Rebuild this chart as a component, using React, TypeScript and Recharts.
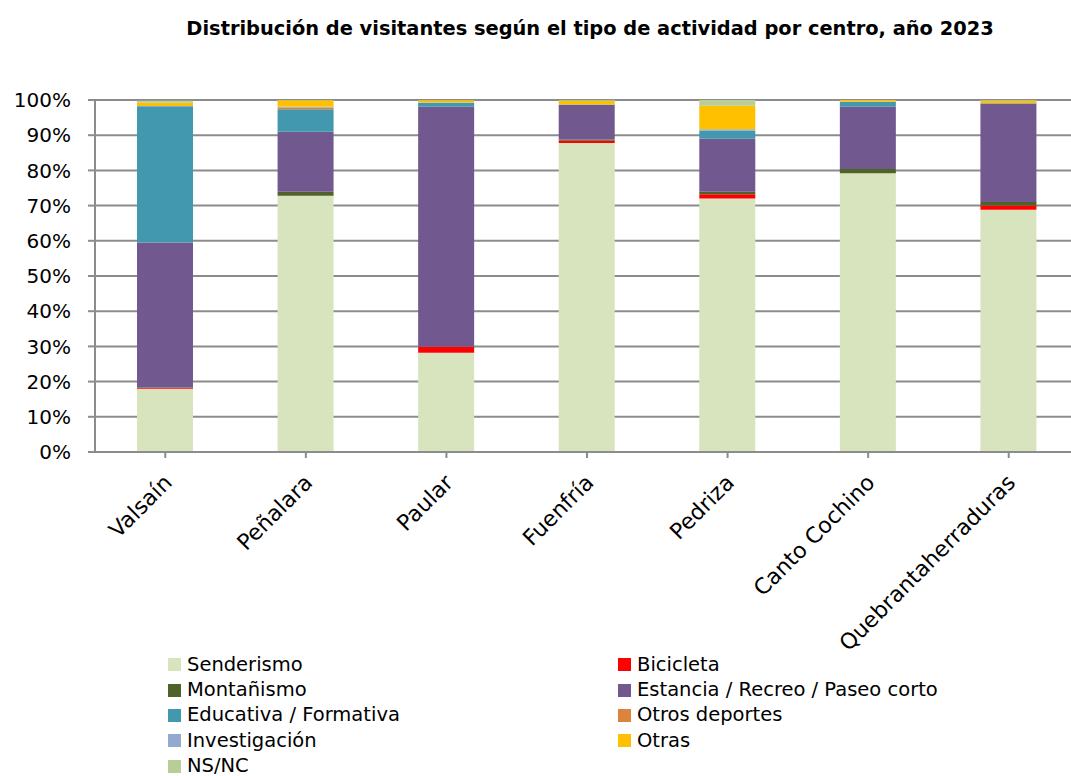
import React from "react";
import { BarChart, Bar, XAxis, YAxis, CartesianGrid } from "recharts";

const centros = ["Valsaín", "Peñalara", "Paular", "Fuenfría", "Pedriza", "Canto Cochino", "Quebrantaherraduras"];

// % de visitantes por actividad (mismo orden que centros)
const senderismo = [18.0, 72.8, 28.2, 87.8, 72.0, 79.2, 68.8];
const bicicleta = [0.2, 0, 1.7, 0.6, 1.2, 0, 1.2];
const montanismo = [0.1, 1.1, 0, 0.4, 0.7, 1.2, 1.0];
const estancia = [41.2, 17.1, 68.2, 9.8, 15.1, 17.7, 28.0];
const educativa = [38.7, 6.4, 1.1, 0.1, 2.3, 1.4, 0.1];
const otrosDeportes = [0, 0.5, 0, 0, 0, 0.1, 0];
const investigacion = [0.1, 0.2, 0.1, 0, 0.4, 0, 0];
const otras = [0.9, 1.8, 0.6, 1.1, 6.7, 0.4, 0.7];
const nsnc = [0.6, 0.1, 0.1, 0.2, 1.6, 0, 0.2];

const yTicks = [0, 10, 20, 30, 40, 50, 60, 70, 80, 90, 100];

const series = [
  { key: "senderismo", name: "Senderismo", color: "#D7E4BD", values: senderismo },
  { key: "bicicleta", name: "Bicicleta", color: "#FF0000", values: bicicleta },
  { key: "montanismo", name: "Montañismo", color: "#4F6228", values: montanismo },
  { key: "estancia", name: "Estancia / Recreo / Paseo corto", color: "#71588F", values: estancia },
  { key: "educativa", name: "Educativa / Formativa", color: "#4198AF", values: educativa },
  { key: "otrosDeportes", name: "Otros deportes", color: "#DB843D", values: otrosDeportes },
  { key: "investigacion", name: "Investigación", color: "#93A9CF", values: investigacion },
  { key: "otras", name: "Otras", color: "#FFC000", values: otras },
  { key: "nsnc", name: "NS/NC", color: "#B9CD96", values: nsnc },
];

const data = centros.map((c, i) => {
  const row: any = { centro: c };
  series.forEach((s) => (row[s.key] = s.values[i]));
  return row;
});

const FONT = "'DejaVu Sans', sans-serif";

function CatTick(props: any) {
  const { x, y, payload } = props;
  const ax = x + 8;
  const ay = y + 24;
  return (
    <text
      x={ax}
      y={ay}
      transform={`rotate(-45, ${ax}, ${ay})`}
      textAnchor="end"
      fontSize={22}
      fontFamily={FONT}
      fill="#000"
    >
      {payload.value}
    </text>
  );
}

export default function App() {
  return (
    <div style={{ position: "absolute", left: 0, top: 0, width: 1071, height: 776, overflow: "hidden", background: "#fff" }}>
      <div
        style={{
          position: "absolute",
          left: 0,
          width: 1180,
          top: 17,
          textAlign: "center",
          fontFamily: FONT,
          fontWeight: "bold",
          fontSize: 19.4,
          color: "#000",
        }}
      >
        Distribución de visitantes según el tipo de actividad por centro, año 2023
      </div>
      <BarChart
        width={1085}
        height={776}
        data={data}
        margin={{ top: 100, right: 6, left: 0, bottom: 124 }}
        barSize={56}
      >
        <CartesianGrid vertical={false} stroke="#8c8c8c" strokeWidth={2} />
        <XAxis
          dataKey="centro"
          interval={0}
          height={200}
          tick={<CatTick />}
          tickLine={{ stroke: "#8c8c8c", strokeWidth: 2 }}
          axisLine={{ stroke: "#8c8c8c", strokeWidth: 2 }}
          tickSize={6}
          scale="band"
        />
        <YAxis
          width={95}
          domain={[0, 100]}
          ticks={yTicks}
          interval={0}
          tickFormatter={(v: number) => `${v}%`}
          tick={{ fontSize: 20, fontFamily: FONT, fill: "#000" }}
          tickLine={{ stroke: "#8c8c8c", strokeWidth: 2 }}
          axisLine={{ stroke: "#8c8c8c", strokeWidth: 2 }}
          tickSize={7}
          tickMargin={17}
        />
        {series.map((s) => (
          <Bar key={s.key} dataKey={s.key} name={s.name} stackId="a" fill={s.color} isAnimationActive={false} />
        ))}
      </BarChart>
      <div style={{ position: "absolute", left: 168, top: 652, fontFamily: FONT, fontSize: 19.5, color: "#000" }}>
        <div style={{ display: "grid", gridTemplateColumns: "450px 450px", rowGap: 0 }}>
          {series.map((s) => (
            <div key={s.key} style={{ display: "flex", alignItems: "center", height: 25.4, lineHeight: "20px" }}>
              <span style={{ display: "inline-block", width: 13, height: 13, background: s.color, marginRight: 6 }} />
              <span>{s.name}</span>
            </div>
          ))}
        </div>
      </div>
    </div>
  );
}
